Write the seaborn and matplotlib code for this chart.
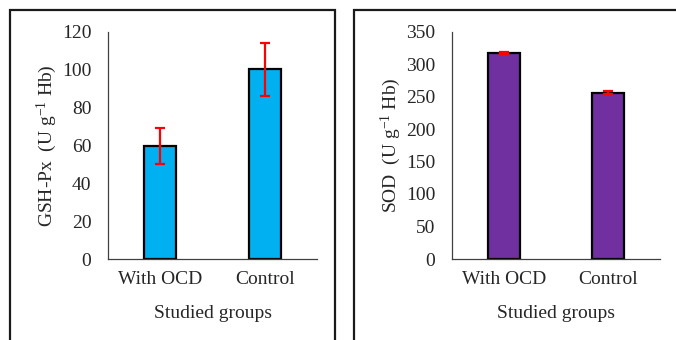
import matplotlib
matplotlib.use('Agg')
import matplotlib.pyplot as plt
from matplotlib.patches import Rectangle
import seaborn as sns

groups = ['With OCD', 'Control']
gsh_mean = [59.5, 100]
gsh_sd = [9.5, 14]
sod_mean = [317, 256]
sod_sd = [2, 2]

sns.set_style('white')
plt.rcParams['font.family'] = ['Liberation Serif', 'DejaVu Serif']
plt.rcParams['mathtext.fontset'] = 'custom'
plt.rcParams['mathtext.rm'] = 'Liberation Serif'
plt.rcParams['mathtext.it'] = 'Liberation Serif:italic'

fig = plt.figure(figsize=(6.76, 3.4), dpi=100)

# panel frames
fig.patches.append(Rectangle((10 / 676, -0.1), 325 / 676, 1.1 - 10 / 340, transform=fig.transFigure,
                             fill=False, edgecolor='#1a1a1a', linewidth=1.6))
fig.patches.append(Rectangle((354 / 676, -0.1), 0.6, 1.1 - 10 / 340, transform=fig.transFigure,
                             fill=False, edgecolor='#1a1a1a', linewidth=1.6))

ax1 = fig.add_axes([108 / 676, 81 / 340, 209 / 676, 227.5 / 340])
ax2 = fig.add_axes([452 / 676, 81 / 340, 208 / 676, 227.5 / 340])

panels = [
    (ax1, gsh_mean, gsh_sd, '#00B0F0', (0, 120), range(0, 121, 20), 'GSH-Px  (U g$^{-1}$ Hb)'),
    (ax2, sod_mean, sod_sd, '#7030A0', (0, 350), range(0, 351, 50), 'SOD  (U g$^{-1}$ Hb)'),
]

for ax, means, sds, col, ylim, ticks, ylab in panels:
    sns.barplot(x=groups, y=means, color=col, width=0.31, edgecolor='black',
                linewidth=1.6, saturation=1, errorbar=None, ax=ax)
    ax.errorbar(x=list(range(len(groups))), y=means, yerr=sds, fmt='none',
                ecolor='#ff0000', elinewidth=1.6, capsize=3.5, capthick=1.6, zorder=5)
    ax.set_ylim(*ylim)
    ax.set_xlim(-0.5, 1.5)
    ax.set_yticks(list(ticks))
    ax.tick_params(axis='both', length=0, labelsize=14)
    ax.tick_params(axis='y', pad=12)
    ax.tick_params(axis='x', pad=9)
    for s in ['top', 'right']:
        ax.spines[s].set_visible(False)
    for s in ['left', 'bottom']:
        ax.spines[s].set_color('#404040')
        ax.spines[s].set_linewidth(0.9)
    ax.set_ylabel(ylab, fontsize=14)
    ax.set_xlabel('Studied groups', fontsize=14)
    ax.yaxis.set_label_coords(-0.235, 0.5)
    ax.xaxis.set_label_coords(0.5, -0.20)

fig.savefig('out.png', dpi=100)
